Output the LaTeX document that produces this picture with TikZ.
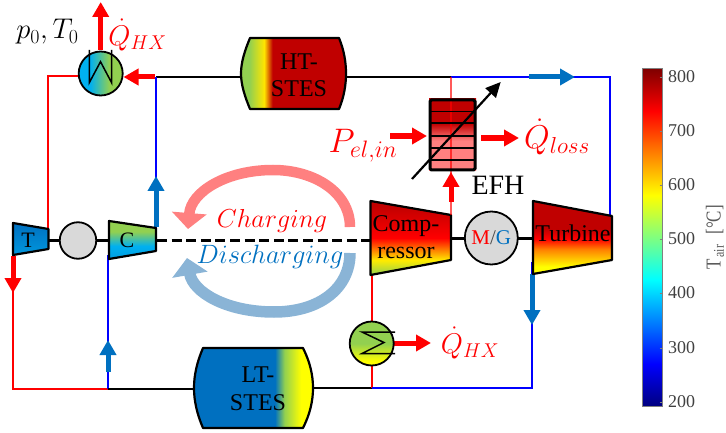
\documentclass[tikz,border=0pt]{standalone}
\usepackage{fix-cm}
\usepackage{fontspec}
\setmainfont{Liberation Serif}
\usetikzlibrary{arrows.meta}

\definecolor{flowblue}{HTML}{0070C0}
\definecolor{stesred}{HTML}{C00000}
\definecolor{stesgreen}{HTML}{92D050}
\definecolor{coolcyan}{HTML}{00B0F0}
\definecolor{softred}{HTML}{FF8080}
\definecolor{softblue}{HTML}{8AB4D6}
\definecolor{machgray}{HTML}{D9D9D9}

\pgfdeclarehorizontalshading{htfill}{100bp}{color(0bp)=(stesgreen); color(29bp)=(stesgreen); color(36bp)=(yellow!80!orange); color(40bp)=(stesred); color(100bp)=(stesred)}
\pgfdeclarehorizontalshading{ltfill}{100bp}{color(0bp)=(flowblue); color(59bp)=(flowblue); color(63bp)=(stesgreen); color(70bp)=(yellow); color(100bp)=(yellow)}
\pgfdeclarehorizontalshading{hxcool}{100bp}{color(0bp)=(coolcyan); color(38bp)=(coolcyan); color(60bp)=(stesgreen); color(100bp)=(stesgreen)}
\pgfdeclareverticalshading{hxwarm}{100bp}{color(0bp)=(yellow); color(30bp)=(yellow); color(50bp)=(stesgreen); color(100bp)=(stesgreen)}
\pgfdeclareverticalshading{compfill}{100bp}{color(0bp)=(stesgreen); color(25bp)=(stesgreen); color(35bp)=(yellow!85!orange); color(42bp)=(orange); color(50bp)=(red); color(72bp)=(stesred); color(100bp)=(stesred)}
\pgfdeclareverticalshading{turbfill}{100bp}{color(0bp)=(yellow); color(30bp)=(yellow); color(42bp)=(orange); color(49bp)=(red); color(56bp)=(stesred); color(100bp)=(stesred)}
\pgfdeclareverticalshading{tfill}{100bp}{color(0bp)=(coolcyan!60!flowblue); color(25bp)=(coolcyan!60!flowblue); color(75bp)=(flowblue); color(100bp)=(flowblue)}
\pgfdeclareverticalshading{cfill}{100bp}{color(0bp)=(flowblue); color(25bp)=(coolcyan!70!flowblue); color(42bp)=(coolcyan); color(61bp)=(stesgreen); color(100bp)=(stesgreen)}
\pgfdeclareverticalshading{efhfill}{100bp}{color(0bp)=(softred); color(46bp)=(softred); color(58bp)=(stesred); color(100bp)=(stesred)}
\pgfdeclareverticalshading{jetbar}{100bp}{rgb(0bp)=(0,0,.5); rgb(25bp)=(0,0,.5); rgb(31.25bp)=(0,0,1); rgb(43.75bp)=(0,1,1); rgb(56.25bp)=(1,1,0); rgb(68.75bp)=(1,0,0); rgb(75bp)=(.5,0,0); rgb(100bp)=(.5,0,0)}

\tikzset{
  pipered/.style={draw=red,line width=1.6pt},
  pipeblue/.style={draw=blue,line width=1.6pt},
  pipeblack/.style={draw=black,line width=1.6pt},
  flowr/.style={draw=red,line width=5pt,-{Triangle[length=15pt,width=16pt]}},
  flowb/.style={draw=flowblue,line width=5pt,-{Triangle[length=15pt,width=16pt]}},
  outline/.style={draw=black,line width=2.2pt,line join=round},
  shaftline/.style={draw=black,line width=3pt},
  hxnode/.style={circle,draw=black,line width=1.8pt,minimum size=44pt,inner sep=0pt},
  mechnode/.style={circle,draw=black,line width=1.8pt,fill=machgray,inner sep=0pt},
  big/.style={font=\fontsize{24}{27.5}\selectfont,align=center,inner sep=0pt},
  small/.style={font=\fontsize{22}{22}\selectfont,align=center,inner sep=0pt},
  heat/.style={text=red,inner sep=0pt,font=\fontsize{28.5}{28.5}\selectfont},
  ticknum/.style={text=black!75,inner sep=0pt,anchor=west,font=\fontsize{18}{18}\selectfont}
}

\begin{document}
\begin{tikzpicture}[x=1pt,y=-1pt]
  \useasboundingbox (0,0) rectangle (726,433);

  \coordinate (ambleft) at (48,76);
  \coordinate (ambin) at (82,76);
  \coordinate (tin) at (48,232);
  \coordinate (tout) at (13,250);
  \coordinate (hotjoint) at (156,77);
  \coordinate (cout) at (156,232);
  \coordinate (cin) at (108,255);
  \coordinate (efhtop) at (451,77);
  \coordinate (corner) at (610,77);
  \coordinate (turbtop) at (610,218);
  \coordinate (compout) at (451,215);
  \coordinate (compin) at (372,272);
  \coordinate (coldleft) at (13,389);
  \coordinate (coldjoint) at (108,389);
  \coordinate (coldright) at (372,388);
  \coordinate (coldcorner) at (532,388);
  \coordinate (turbout) at (532,262);
  \coordinate (hxambin) at (123.5,77);

  \draw[pipered] (ambin) -- (ambleft) -- (tin);
  \draw[pipeblack] (hotjoint) -- (245,77);
  \draw[pipeblack] (340,77) -- (efhtop);
  \draw[pipeblue] (hotjoint) -- (cout);
  \draw[pipeblue] (efhtop) -- (corner) -- (turbtop);
  \draw[pipered] (tout) -- (coldleft) -- (coldjoint);
  \draw[pipeblue] (coldjoint) -- (cin);
  \draw[pipeblack] (coldjoint) -- (200,389);
  \draw[pipeblack] (308,388) -- (coldright);
  \draw[pipered] (coldright) -- (compin);
  \draw[pipeblue] (coldright) -- (coldcorner) -- (turbout);

  \draw[flowr] (155,77) -- (hxambin);
  \draw[flowr] (100.7,50) -- (100.7,2);
  \draw[flowb] (156,227) -- (156,176);
  \draw[flowb] (529,77) -- (575,77);
  \draw[flowb] (532,274) -- (532,325);
  \draw[flowb] (108,372) -- (108,340);
  \draw[flowr] (13,256) -- (13,293);
  \draw[flowr] (394,343) -- (431,343);
  \draw[flowr] (451,202) -- (451,172);
  \draw[flowr,line width=6pt] (390,136) -- (427,136);
  \draw[flowr,line width=6pt] (481,138) -- (519,138);

  \draw[line width=10.5pt,softred,-{Triangle[length=16pt,width=34pt]}] (350,227) .. controls (350,192) and (314,170) .. (273,170) .. controls (226,170) and (191,192) .. (188,229);
  \draw[line width=11.5pt,softblue,-{Triangle[length=17pt,width=35pt]}] (350,253) .. controls (350,288) and (320,312) .. (274,312) .. controls (226,312) and (193,292) .. (187,258);
  \draw[shaftline,line width=3.4pt,dash pattern=on 10pt off 4.6pt] (157,240.5) -- (370,240.5);

  \draw[shaftline] (48,240.5) -- (109,240.5);
  \draw[shaftline] (451,238) -- (533,238);

  \shade[shading=tfill,outline] (13,223) -- (48.5,229) -- (48.5,249) -- (13,255) -- cycle;
  \shade[shading=cfill,outline] (109,221) -- (156,228) -- (156,251) -- (109,259) -- cycle;
  \shade[shading=compfill,outline] (370.5,201) -- (451,215) -- (451,260) -- (370.5,275) -- cycle;
  \shade[shading=turbfill,outline] (533,201) -- (612,216) -- (612,260) -- (533,274) -- cycle;
  \shade[shading=htfill,outline] (250,38) -- (339,38) .. controls (344,50) and (346,62) .. (346,73.5) .. controls (346,85) and (344,97) .. (339,109) -- (250,109) .. controls (245,97) and (241,85) .. (241,73.5) .. controls (241,62) and (245,50) .. (250,38) -- cycle;
  \shade[shading=ltfill,outline] (203,348) -- (303,348) .. controls (310,362) and (313,375) .. (313,388) .. controls (313,401) and (310,414) .. (303,428) -- (203,428) .. controls (197,414) and (194,401) .. (194,388) .. controls (194,375) and (197,362) .. (203,348) -- cycle;

  \node[mechnode,minimum size=36.5pt] (gen) at (78,240.5) {};
  \node[mechnode,minimum size=53pt,font=\fontsize{21}{21}\selectfont] (mg) at (491.3,238) {\textcolor{red}{M}\textcolor{black!70}{/}\textcolor{flowblue}{G}};

  \node[hxnode,shade,shading=hxcool] (hxamb) at (100.7,73.5) {};
  \node[hxnode,shade,shading=hxwarm] (hxlow) at (371.7,343.5) {};
  \draw[black,line width=1.5pt] (89.3,50) -- (89.3,82.7) -- (100.5,61.7) -- (111.6,82.7) -- (111.6,50);
  \draw[black,line width=1.5pt] (395,332) -- (362,332) -- (384,342.5) -- (362,353.5) -- (395,353.5);

  \shade[shading=efhfill] (429,99) rectangle (476,171);
  \draw[pipered,draw opacity=.65] (efhtop) -- (compout);
  \foreach \rowy in {111.7,123.3,136,148,160} {
    \draw[black,line width=1.6pt] (430,\rowy) -- (475,\rowy);
  }
  \draw[black,line width=3pt,rounded corners=1.5pt] (430,100) rectangle (475,170);
  \draw[black,line width=2.2pt,-{Triangle[length=15pt,width=14pt]}] (412,179) -- (500.7,82);

  \node[big] (htlabel) at (299,75.5) {HT-\\STES};
  \node[big] (ltlabel) at (258,389) {LT-\\STES};
  \node[big] (complabel) at (406,237) {Comp-\\ressor};
  \node[big] (turblabel) at (573,233) {Turbine};
  \node[small] (tlabel) at (28,240) {T};
  \node[small] (clabel) at (127,240.5) {C};
  \node[font=\fontsize{28}{28}\selectfont,inner sep=0pt] (efhlabel) at (498,185) {EFH};

  \node[inner sep=0pt,font=\fontsize{28.5}{28.5}\selectfont] (ambient) at (47.5,32) {$p_0,T_0$};
  \node[heat] (qamb) at (137.5,35) {$\dot{Q}_{HX}$};
  \node[heat] (qlow) at (470,343) {$\dot{Q}_{HX}$};
  \node[heat,font=\fontsize{33}{33}\selectfont] (qloss) at (557,137) {$\dot{Q}_{loss}$};
  \node[heat,font=\fontsize{34}{34}\selectfont] (pel) at (363,146) {$P_{el,in}$};
  \node[text=red,inner sep=0pt,font=\fontsize{26}{26}\selectfont] (charging) at (272,221) {$Charging$};
  \node[text=flowblue,inner sep=0pt,font=\fontsize{26.5}{26.5}\selectfont] (discharging) at (270,257) {$Discharging$};

  \shade[shading=jetbar,draw=black!50,line width=1pt] (642,69) rectangle (662.5,406);
  \foreach \val/\ticky in {800/77,700/131,600/185,500/239,400/293,300/348,200/402} {
    \draw[black!50,line width=.8pt] (659.5,\ticky) -- (662.5,\ticky);
    \node[ticknum] (tick\val) at (668,\ticky) {\val};
  }
  \node[rotate=90,yscale=1.25,text=black!65,inner sep=0pt,font=\fontsize{17}{17}\selectfont] (barlabel) at (715,237.5) {T\textsubscript{\,air}\hspace{10pt}[°C]};
\end{tikzpicture}
\end{document}
